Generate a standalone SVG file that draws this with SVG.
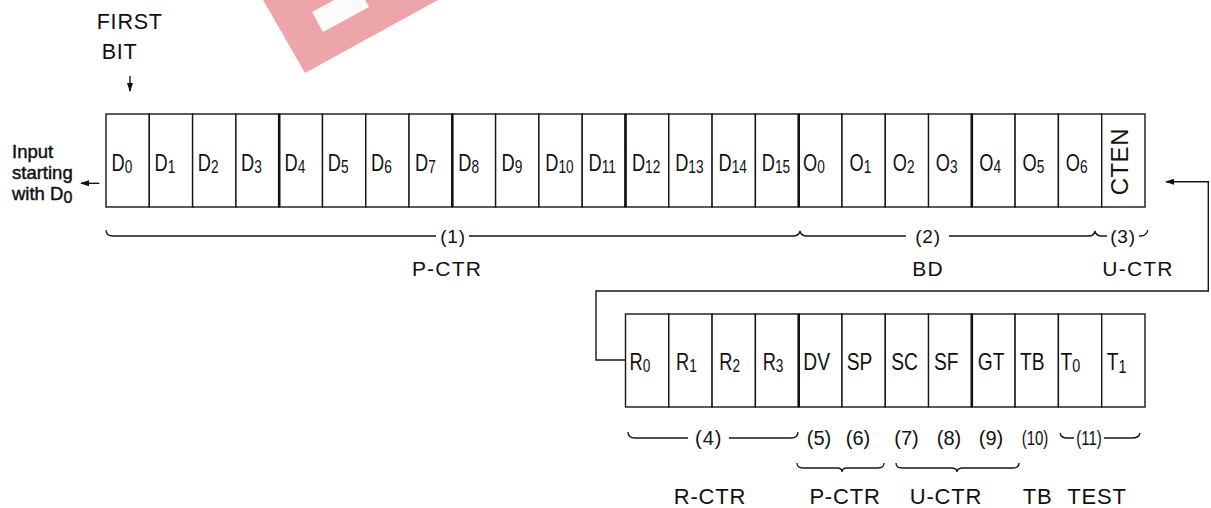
<svg xmlns="http://www.w3.org/2000/svg" width="1211" height="508" viewBox="0 0 1211 508">
<defs>
<style>
.cell rect{fill:#fff;stroke:#161616;stroke-width:1.4}
.lbl{font-family:"Liberation Sans",Arial,Helvetica,sans-serif;font-size:24px;fill:#111}
.sub{font-size:18px}
.txt{font-family:"Liberation Sans",Arial,Helvetica,sans-serif;fill:#111}
.cap{font-size:21px;letter-spacing:1.2px;text-anchor:middle}
.capb{font-size:22px;letter-spacing:0.8px;text-anchor:middle}
.num{font-size:19px;letter-spacing:0.8px;text-anchor:middle}
.numb{font-size:20px;text-anchor:middle}
.ln{fill:none;stroke:#161616;stroke-width:1.4}
.brace{fill:none;stroke:#161616;stroke-width:1.3}
.thick{stroke:#111;stroke-width:2.6}
</style>
<marker id="ah" markerWidth="9" markerHeight="6" refX="8" refY="3" orient="auto" markerUnits="userSpaceOnUse">
<path d="M0,0 L9,3 L0,6 z" fill="#111"/>
</marker>
</defs>
<rect width="1211" height="508" fill="#fff"/>
<g id="watermark">
<polygon points="263,0 305,73 438,0" fill="#eca6aa"/>
<polygon points="312,12 323,32 369,7 358,-13" fill="#fdfafa"/>
</g>
<g id="first-bit">
<text class="txt" x="96.7" y="29.3" font-size="21.5" letter-spacing="0.8">FIRST</text>
<text class="txt" x="101.7" y="59.3" font-size="21.5" letter-spacing="0.8">BIT</text>
</g>
<g id="input-note">
<text class="txt" x="12" y="158" font-size="18.5" stroke="#111" stroke-width="0.45">Input</text>
<text class="txt" x="12" y="179" font-size="18.5" stroke="#111" stroke-width="0.45">starting</text>
<text class="txt" x="12" y="200" font-size="18.5" stroke="#111" stroke-width="0.45">with D<tspan font-size="16" dy="3">0</tspan></text>
</g>
<g id="row1">
<g id="d0" class="cell"><rect x="106" y="114" width="43.3" height="93"/><text class="lbl" transform="translate(111.5,170.5) scale(0.76,1)">D<tspan class="sub" dy="2">0</tspan></text></g>
<g id="d1" class="cell"><rect x="149.3" y="114" width="43.3" height="93"/><text class="lbl" transform="translate(154.5,170.5) scale(0.76,1)">D<tspan class="sub" dy="2">1</tspan></text></g>
<g id="d2" class="cell"><rect x="192.6" y="114" width="43.3" height="93"/><text class="lbl" transform="translate(197.8,170.5) scale(0.76,1)">D<tspan class="sub" dy="2">2</tspan></text></g>
<g id="d3" class="cell"><rect x="235.9" y="114" width="43.3" height="93"/><text class="lbl" transform="translate(241,170.5) scale(0.76,1)">D<tspan class="sub" dy="2">3</tspan></text></g>
<g id="d4" class="cell"><rect x="279.2" y="114" width="43.3" height="93"/><text class="lbl" transform="translate(284.5,170.5) scale(0.76,1)">D<tspan class="sub" dy="2">4</tspan></text></g>
<g id="d5" class="cell"><rect x="322.5" y="114" width="43.3" height="93"/><text class="lbl" transform="translate(327.8,170.5) scale(0.76,1)">D<tspan class="sub" dy="2">5</tspan></text></g>
<g id="d6" class="cell"><rect x="365.8" y="114" width="43.3" height="93"/><text class="lbl" transform="translate(371,170.5) scale(0.76,1)">D<tspan class="sub" dy="2">6</tspan></text></g>
<g id="d7" class="cell"><rect x="409" y="114" width="43.3" height="93"/><text class="lbl" transform="translate(415,170.5) scale(0.76,1)">D<tspan class="sub" dy="2">7</tspan></text></g>
<g id="d8" class="cell"><rect x="452.3" y="114" width="43.3" height="93"/><text class="lbl" transform="translate(458.3,170.5) scale(0.76,1)">D<tspan class="sub" dy="2">8</tspan></text></g>
<g id="d9" class="cell"><rect x="495.6" y="114" width="43.3" height="93"/><text class="lbl" transform="translate(501.6,170.5) scale(0.76,1)">D<tspan class="sub" dy="2">9</tspan></text></g>
<g id="d10" class="cell"><rect x="538.9" y="114" width="43.3" height="93"/><text class="lbl" transform="translate(545.3,170.5) scale(0.76,1)">D<tspan class="sub" dy="2">10</tspan></text></g>
<g id="d11" class="cell"><rect x="582.2" y="114" width="43.3" height="93"/><text class="lbl" transform="translate(588.6,170.5) scale(0.76,1)">D<tspan class="sub" dy="2">11</tspan></text></g>
<g id="d12" class="cell"><rect x="625.5" y="114" width="43.3" height="93"/><text class="lbl" transform="translate(631.9,170.5) scale(0.76,1)">D<tspan class="sub" dy="2">12</tspan></text></g>
<g id="d13" class="cell"><rect x="668.8" y="114" width="43.3" height="93"/><text class="lbl" transform="translate(675.2,170.5) scale(0.76,1)">D<tspan class="sub" dy="2">13</tspan></text></g>
<g id="d14" class="cell"><rect x="712.1" y="114" width="43.3" height="93"/><text class="lbl" transform="translate(718.5,170.5) scale(0.76,1)">D<tspan class="sub" dy="2">14</tspan></text></g>
<g id="d15" class="cell"><rect x="755.4" y="114" width="43.3" height="93"/><text class="lbl" transform="translate(761.8,170.5) scale(0.76,1)">D<tspan class="sub" dy="2">15</tspan></text></g>
<g id="o0" class="cell"><rect x="798.7" y="114" width="43.3" height="93"/><text class="lbl" transform="translate(803,170.5) scale(0.76,1)">O<tspan class="sub" dy="2">0</tspan></text></g>
<g id="o1" class="cell"><rect x="842" y="114" width="43.3" height="93"/><text class="lbl" transform="translate(849.5,170.5) scale(0.76,1)">O<tspan class="sub" dy="2">1</tspan></text></g>
<g id="o2" class="cell"><rect x="885.3" y="114" width="43.3" height="93"/><text class="lbl" transform="translate(892.8,170.5) scale(0.76,1)">O<tspan class="sub" dy="2">2</tspan></text></g>
<g id="o3" class="cell"><rect x="928.5" y="114" width="43.3" height="93"/><text class="lbl" transform="translate(935.8,170.5) scale(0.76,1)">O<tspan class="sub" dy="2">3</tspan></text></g>
<g id="o4" class="cell"><rect x="971.8" y="114" width="43.3" height="93"/><text class="lbl" transform="translate(979.3,170.5) scale(0.76,1)">O<tspan class="sub" dy="2">4</tspan></text></g>
<g id="o5" class="cell"><rect x="1015.1" y="114" width="43.3" height="93"/><text class="lbl" transform="translate(1022.5,170.5) scale(0.76,1)">O<tspan class="sub" dy="2">5</tspan></text></g>
<g id="o6" class="cell"><rect x="1058.4" y="114" width="43.3" height="93"/><text class="lbl" transform="translate(1065.8,170.5) scale(0.76,1)">O<tspan class="sub" dy="2">6</tspan></text></g>
<g id="cten" class="cell"><rect x="1101.7" y="114" width="43.3" height="93"/><text class="lbl" font-size="21" letter-spacing="0.5" text-anchor="middle" transform="translate(1127.5,161.7) rotate(-90)">CTEN</text></g>
</g>
<g id="row2">
<g id="r0" class="cell"><rect x="625.5" y="314" width="43.3" height="93"/><text class="lbl" transform="translate(629.5,370) scale(0.76,1)">R<tspan class="sub" dy="2">0</tspan></text></g>
<g id="r1" class="cell"><rect x="668.8" y="314" width="43.3" height="93"/><text class="lbl" transform="translate(676,370) scale(0.76,1)">R<tspan class="sub" dy="2">1</tspan></text></g>
<g id="r2" class="cell"><rect x="712.1" y="314" width="43.3" height="93"/><text class="lbl" transform="translate(719.3,370) scale(0.76,1)">R<tspan class="sub" dy="2">2</tspan></text></g>
<g id="r3" class="cell"><rect x="755.4" y="314" width="43.3" height="93"/><text class="lbl" transform="translate(762.7,370) scale(0.76,1)">R<tspan class="sub" dy="2">3</tspan></text></g>
<g id="dv" class="cell"><rect x="798.7" y="314" width="43.3" height="93"/><text class="lbl" transform="translate(803.3,370) scale(0.8,1)">DV</text></g>
<g id="sp" class="cell"><rect x="842" y="314" width="43.3" height="93"/><text class="lbl" transform="translate(846.7,370) scale(0.8,1)">SP</text></g>
<g id="sc" class="cell"><rect x="885.3" y="314" width="43.3" height="93"/><text class="lbl" transform="translate(891.2,370) scale(0.8,1)">SC</text></g>
<g id="sf" class="cell"><rect x="928.5" y="314" width="43.3" height="93"/><text class="lbl" transform="translate(934,370) scale(0.8,1)">SF</text></g>
<g id="gt" class="cell"><rect x="971.8" y="314" width="43.3" height="93"/><text class="lbl" transform="translate(977.8,370) scale(0.8,1)">GT</text></g>
<g id="tb" class="cell"><rect x="1015.1" y="314" width="43.3" height="93"/><text class="lbl" transform="translate(1020,370) scale(0.8,1)">TB</text></g>
<g id="t0" class="cell"><rect x="1058.4" y="314" width="43.3" height="93"/><text class="lbl" transform="translate(1060.5,370) scale(0.8,1)">T<tspan class="sub" dy="2">0</tspan></text></g>
<g id="t1" class="cell"><rect x="1101.7" y="314" width="43.3" height="93"/><text class="lbl" transform="translate(1106.7,370) scale(0.8,1)">T<tspan class="sub" dy="3">1</tspan></text></g>
</g>
<g id="dividers" class="thick">
<line x1="279.2" y1="114" x2="279.2" y2="207"/>
<line x1="452.3" y1="114" x2="452.3" y2="207"/>
<line x1="625.5" y1="114" x2="625.5" y2="207"/>
<line x1="798.7" y1="114" x2="798.7" y2="207"/>
<line x1="971.8" y1="114" x2="971.8" y2="207"/>
<line x1="798.7" y1="314" x2="798.7" y2="407"/>
<line x1="971.8" y1="314" x2="971.8" y2="407"/>
</g>
<g id="connectors">
<path class="ln" d="M130,76 V91" marker-end="url(#ah)"/>
<path class="ln" d="M99.3,183.3 H81" marker-end="url(#ah)"/>
<path class="ln" d="M625.5,360 H596 V291 H1208.3 V181.7 H1166" marker-end="url(#ah)"/>
</g>
<g id="brackets">
<path class="brace" d="M106,230 Q106,236 113,236 H436 M469,236 H793 Q799,236 800,231 Q801,236 807,236 H906 M949,236 H1089 Q1094,236 1095,231 Q1096,236 1102,236 H1107 M1139,236 H1141 Q1146,236 1148,230"/>
<text class="txt num" x="453" y="242.5">(1)</text>
<text class="txt num" x="928" y="242.5">(2)</text>
<text class="txt num" x="1123" y="242.5">(3)</text>
<text class="txt cap" x="447" y="276">P-CTR</text>
<text class="txt cap" x="928" y="276">BD</text>
<text class="txt cap" x="1138" y="276">U-CTR</text>
<path class="brace" d="M628,432 Q628,438 635,438 H688 M729,438 H791 Q798,438 798,432 M1060,433 Q1061,438 1067,438 H1074 M1104,438 H1132 Q1139,438 1140,433"/>
<text class="txt numb" x="708.8" y="445" letter-spacing="1">(4)</text>
<text class="txt numb" x="819" y="445">(5)</text>
<text class="txt numb" x="858" y="445">(6)</text>
<text class="txt numb" x="906.5" y="445">(7)</text>
<text class="txt numb" x="949" y="445">(8)</text>
<text class="txt numb" x="991" y="445">(9)</text>
<text class="txt numb" transform="translate(1035,445) scale(0.75,1)">(10)</text>
<text class="txt numb" transform="translate(1089,445) scale(0.75,1)">(11)</text>
<path class="brace" d="M797,463 Q797,468 803,468 H837 Q842,468 842,472 Q842,468 847,468 H878 Q884,468 884,463 M896,463 Q896,468 902,468 H951 Q957,468 957,472 Q957,468 963,468 H1013 Q1019,468 1019,463"/>
<text class="txt capb" x="710" y="503.5">R-CTR</text>
<text class="txt capb" x="845" y="503.5">P-CTR</text>
<text class="txt capb" x="946" y="503.5">U-CTR</text>
<text class="txt capb" x="1037.5" y="503.5">TB</text>
<text class="txt capb" x="1097" y="503.5">TEST</text>
</g>
</svg>
